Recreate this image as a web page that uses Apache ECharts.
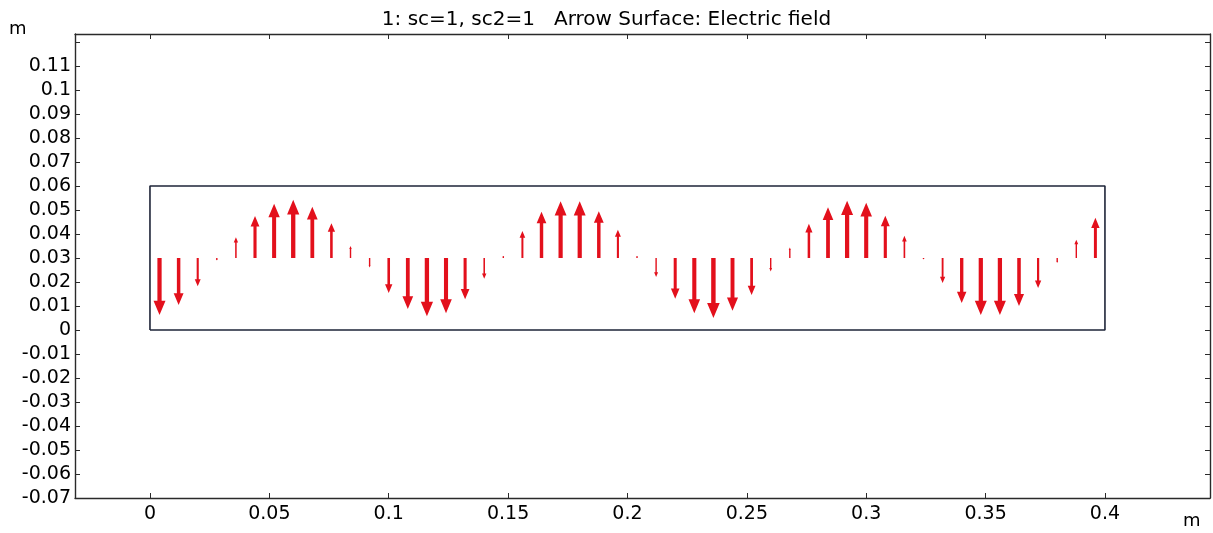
<!DOCTYPE html>
<html>
<head>
<meta charset="utf-8">
<title>Arrow Surface: Electric field</title>
<script src="https://cdn.jsdelivr.net/npm/echarts@6/dist/echarts.min.js"></script>
<style>
	* {
		margin: 0;
		padding: 0;
	}

	body {
		background: #fff;
	}

	.chart {
		width: 1213px;
		height: 533px;
	}
</style>
</head>
<body>
<div id="arrowPlot" class="chart"></div>
<script>
	// arrow positions along the surface (m)
	var arrowX = [
		0.004, 0.012, 0.020, 0.028, 0.036, 0.044, 0.052, 0.060, 0.068, 0.076,
		0.084, 0.092, 0.100, 0.108, 0.116, 0.124, 0.132, 0.140, 0.148, 0.156,
		0.164, 0.172, 0.180, 0.188, 0.196, 0.204, 0.212, 0.220, 0.228, 0.236,
		0.244, 0.252, 0.260, 0.268, 0.276, 0.284, 0.292, 0.300, 0.308, 0.316,
		0.324, 0.332, 0.340, 0.348, 0.356, 0.364, 0.372, 0.380, 0.388, 0.396
	];
	// arrow tails sit on the mid line of the domain
	var arrowBase = [
		0.03, 0.03, 0.03, 0.03, 0.03, 0.03, 0.03, 0.03, 0.03, 0.03,
		0.03, 0.03, 0.03, 0.03, 0.03, 0.03, 0.03, 0.03, 0.03, 0.03,
		0.03, 0.03, 0.03, 0.03, 0.03, 0.03, 0.03, 0.03, 0.03, 0.03,
		0.03, 0.03, 0.03, 0.03, 0.03, 0.03, 0.03, 0.03, 0.03, 0.03,
		0.03, 0.03, 0.03, 0.03, 0.03, 0.03, 0.03, 0.03, 0.03, 0.03
	];
	// scaled electric field, vertical component (arrow length in m)
	var arrowE = [
		-0.0238, -0.0196, -0.0118, -0.0010, 0.0086, 0.0175, 0.0226, 0.0242, 0.0213, 0.0145,
		0.0050, -0.0040, -0.0146, -0.0213, -0.0243, -0.0230, -0.0172, -0.0087, 0.0008, 0.0112,
		0.0193, 0.0236, 0.0236, 0.0195, 0.0118, 0.0008, -0.0079, -0.0170, -0.0230, -0.0250,
		-0.0220, -0.0154, -0.0056, 0.0044, 0.0142, 0.0211, 0.0238, 0.0230, 0.0176, 0.0092,
		-0.0005, -0.0104, -0.0188, -0.0238, -0.0238, -0.0200, -0.0125, -0.0020, 0.0076, 0.0167
	];
	// domain outline
	var domainX = [0, 0.4, 0.4, 0, 0];
	var domainY = [0, 0, 0.06, 0.06, 0];

	var titleText = '1: sc=1, sc2=1   Arrow Surface: Electric field';
	var fontName = 'DejaVu Sans';
	var frameColor = '#2a2a2a';

	var arrowData = arrowX.map(function(x, i) {
		return [x, arrowBase[i], arrowE[i]];
	});
	var domainData = domainX.map(function(x, i) {
		return [x, domainY[i]];
	});

	function tickLabel(v) {
		return String(parseFloat(v.toFixed(3)));
	}

	function renderArrow(params, api) {
		var x = api.value(0);
		var y = api.value(1);
		var e = api.value(2);
		var p0 = api.coord([x, y]);
		var p1 = api.coord([x, y + e]);
		var len = Math.abs(p1[1] - p0[1]);
		var dir = p1[1] < p0[1] ? -1 : 1; // -1 = pointing up on screen
		var headLen = len * 0.25;
		var headHalf = Math.max(1, len * 0.105);
		var shaftHalf = Math.max(0.7, len * 0.037);
		var neck = p1[1] - dir * headLen;
		var cx = p0[0];
		return {
			type: 'polygon',
			shape: {
				points: [
					[cx - shaftHalf, p0[1]],
					[cx - shaftHalf, neck],
					[cx - headHalf, neck],
					[cx, p1[1]],
					[cx + headHalf, neck],
					[cx + shaftHalf, neck],
					[cx + shaftHalf, p0[1]]
				]
			},
			style: {
				fill: '#e3101c'
			}
		};
	}

	var chart = echarts.init(document.getElementById('arrowPlot'));
	chart.setOption({
		animation: false,
		backgroundColor: '#fff',
		title: {
			text: titleText,
			left: 'center',
			top: 5,
			textStyle: {
				fontFamily: fontName,
				fontSize: 20,
				fontWeight: 'normal',
				color: '#000'
			}
		},
		grid: {
			left: 75,
			right: 3,
			top: 34,
			bottom: 35
		},
		xAxis: [{
				type: 'value',
				position: 'bottom',
				min: -0.0314,
				max: 0.444,
				splitNumber: 9,
				minInterval: 0.05,
				maxInterval: 0.05,
				splitLine: { show: false },
				axisLine: { onZero: false, lineStyle: { color: frameColor, width: 1.4 } },
				axisTick: { inside: true, length: 5, lineStyle: { color: frameColor } },
				axisLabel: {
					showMinLabel: false,
					showMaxLabel: false,
					margin: 7,
					fontFamily: fontName,
					fontSize: 19,
					color: '#000',
					formatter: tickLabel
				}
			},
			{
				type: 'value',
				position: 'top',
				min: -0.0314,
				max: 0.444,
				splitNumber: 9,
				minInterval: 0.05,
				maxInterval: 0.05,
				splitLine: { show: false },
				axisLine: { onZero: false, lineStyle: { color: frameColor, width: 1.4 } },
				axisTick: { inside: true, length: 5, lineStyle: { color: frameColor } },
				axisLabel: { show: false }
			}
		],
		yAxis: [{
				type: 'value',
				position: 'left',
				min: -0.07,
				max: 0.1233,
				interval: 0.01,
				splitLine: { show: false },
				axisLine: { onZero: false, lineStyle: { color: frameColor, width: 1.4 } },
				axisTick: { inside: true, length: 5, lineStyle: { color: frameColor } },
				axisLabel: {
					margin: 4,
					fontFamily: fontName,
					fontSize: 19,
					color: '#000',
					formatter: function(v) {
						if (v > 0.115) return '';
						return tickLabel(v);
					}
				}
			},
			{
				type: 'value',
				position: 'right',
				min: -0.07,
				max: 0.1233,
				interval: 0.01,
				splitLine: { show: false },
				axisLine: { onZero: false, lineStyle: { color: frameColor, width: 1.4 } },
				axisTick: { inside: true, length: 5, lineStyle: { color: frameColor } },
				axisLabel: { show: false }
			}
		],
		graphic: [{
				type: 'text',
				left: 9,
				top: 20,
				style: { text: 'm', fontFamily: fontName, fontSize: 18, fill: '#000' }
			},
			{
				type: 'text',
				left: 1183,
				top: 512,
				style: { text: 'm', fontFamily: fontName, fontSize: 18, fill: '#000' }
			}
		],
		series: [{
				name: 'domain',
				type: 'line',
				data: domainData,
				symbol: 'none',
				silent: true,
				lineStyle: { color: '#1e2438', width: 1.6 }
			},
			{
				name: 'Electric field',
				type: 'custom',
				data: arrowData,
				renderItem: renderArrow,
				encode: { x: 0, y: 1 }
			}
		]
	});
</script>
</body>
</html>
